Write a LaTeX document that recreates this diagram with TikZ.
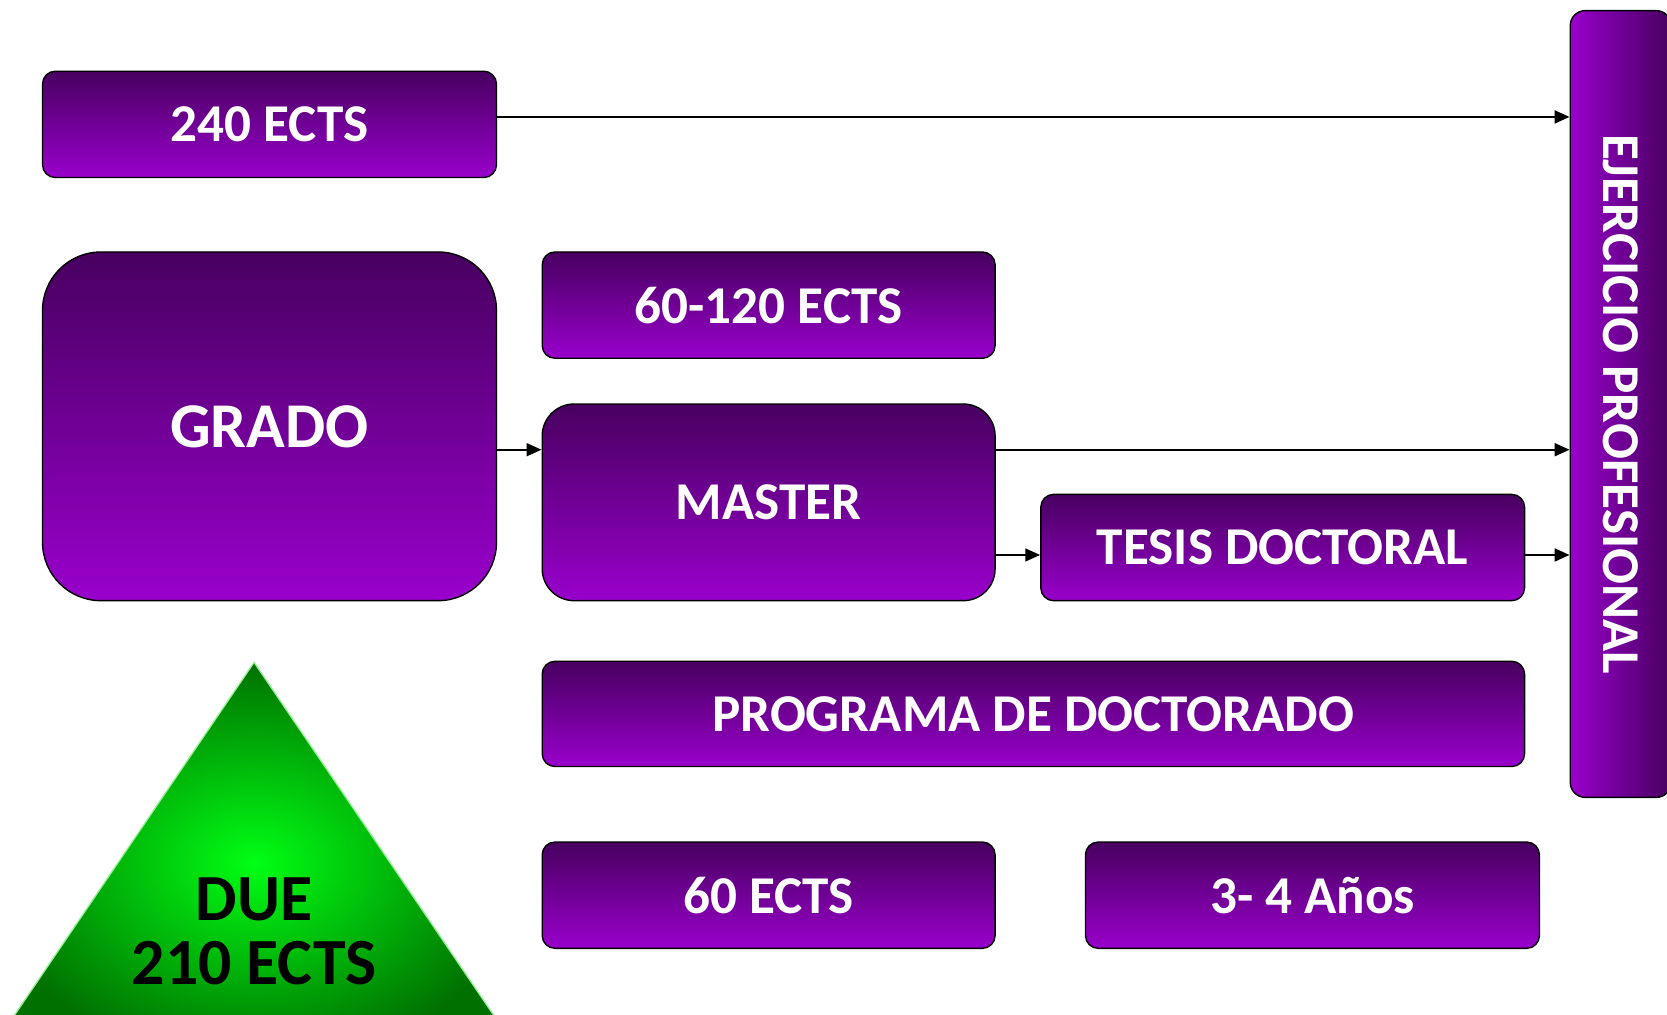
\documentclass[tikz,border=0pt]{standalone}
\usepackage{fontspec}
\setmainfont{Carlito}
\usetikzlibrary{arrows.meta,calc}
\definecolor{pTop}{RGB}{72,0,96}
\definecolor{pBot}{RGB}{153,0,204}
\definecolor{gOut}{RGB}{0,112,0}
\definecolor{gIn}{RGB}{0,255,20}
\definecolor{gEdge}{RGB}{150,240,150}
\tikzset{
  pbox/.style={draw=black, line width=1.3pt, rounded corners=12pt,
    top color=pTop, bottom color=pBot, text=white, inner sep=0pt,
    font=\bfseries\fontsize{50}{60}\selectfont},
  arr/.style={line width=2.2pt, -{Triangle[length=14pt,width=12pt]}},
}
\begin{document}
\begin{tikzpicture}[x=1pt,y=-1pt]
\useasboundingbox (0,0) rectangle (1568,954);
% boxes
\node[pbox, minimum width=427, minimum height=100] (b240) at (253.5,117) {240 ECTS};
\node[pbox, rounded corners=55pt, minimum width=427, minimum height=328, font=\bfseries\fontsize{60}{72}\selectfont] (grado) at (253.5,401) {GRADO};
\node[pbox, minimum width=426, minimum height=100] (b60120) at (723,287) {60-120 ECTS};
\node[pbox, rounded corners=30pt, minimum width=426, minimum height=185] (master) at (723,472.5) {MASTER};
\node[pbox, minimum width=455, minimum height=100] (tesis) at (1206.5,515) {TESIS DOCTORAL};
\node[pbox, minimum width=924, minimum height=99] (prog) at (972,671.5) {PROGRAMA DE DOCTORADO};
\node[pbox, minimum width=426, minimum height=100] (b60) at (723,842) {60 ECTS};
\node[pbox, minimum width=427, minimum height=100] (anos) at (1234.5,842) {3- 4 Años};
\node[draw=black, line width=1.3pt, rounded corners=14pt, left color=pBot, right color=pTop,
  minimum width=95, minimum height=740, inner sep=0pt] (ej) at (1524.5,380) {};
\node[text=white, rotate=-90, inner sep=0pt, font=\bfseries\fontsize{50}{60}\selectfont] (ejt) at (ej.center) {EJERCICIO PROFESIONAL};
% triangle
\begin{scope}
\clip (0,0) rectangle (1568,954);
\shade[inner color=gIn, outer color=gOut, draw=gEdge, line width=1.2pt]
  (239,623) -- (495,1000) -- (-17,1000) -- cycle;
\end{scope}
\node[align=center, text=black, inner sep=0pt, font=\bfseries\fontsize{62}{60}\selectfont] (due) at (239,876) {DUE\\210 ECTS};
% arrows
\draw[arr] (b240.east |- 0,110) -- (ej.west |- 0,110);
\draw[arr] (grado.east |- 0,423) -- (master.west |- 0,423);
\draw[arr] (master.east |- 0,423) -- (ej.west |- 0,423);
\draw[arr] (master.east |- 0,522) -- (tesis.west |- 0,522);
\draw[arr] (tesis.east |- 0,522) -- (ej.west |- 0,522);
\end{tikzpicture}
\end{document}
